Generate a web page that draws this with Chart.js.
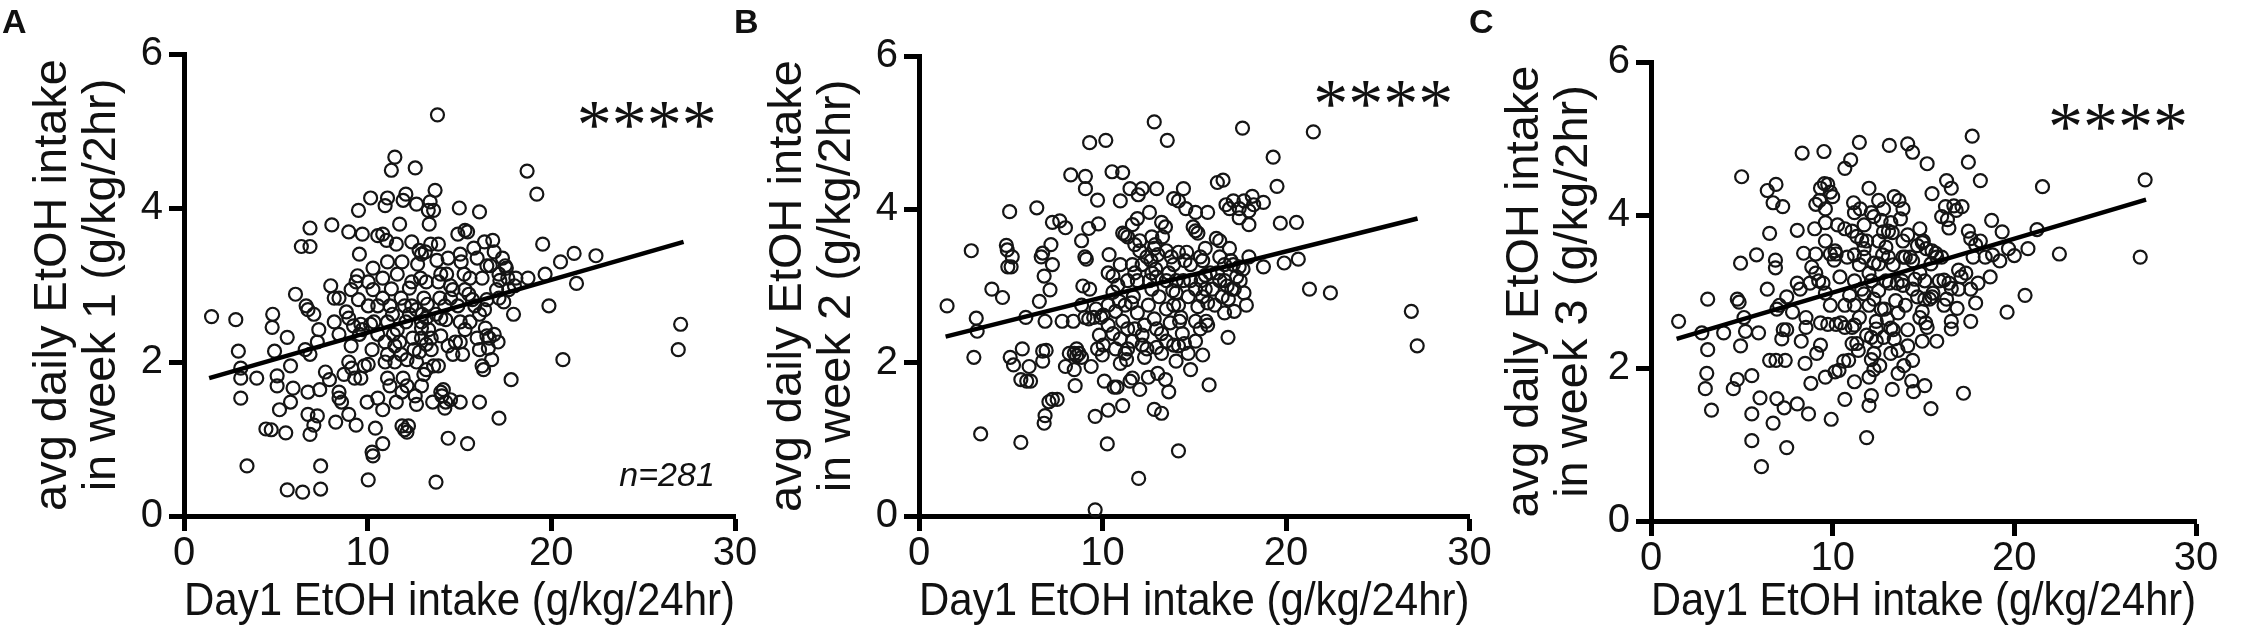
<!DOCTYPE html>
<html>
<head>
<meta charset="utf-8">
<title>Day1 vs weekly EtOH intake</title>
<script src="https://cdn.jsdelivr.net/npm/chart.js@4.4.1/dist/chart.umd.min.js"></script>
<style>
  html, body { margin: 0; padding: 0; background: #fff; }
  #wrap { position: relative; width: 2246px; height: 630px; overflow: hidden; background: #fff; }
  #wrap canvas { position: absolute; top: 0; }
</style>
</head>
<body>
<div id="wrap">
  <canvas id="chartA"></canvas>
  <canvas id="chartB"></canvas>
  <canvas id="chartC"></canvas>
</div>
<script>
// axis ticks
const xTicks = [0, 10, 20, 30];
const yTicks = [0, 2, 4, 6];

// texts
const xTitle = 'Day1 EtOH intake (g/kg/24hr)';
const yTitleTop = 'avg daily EtOH intake';
const stars = '****';
const nLabel = 'n=281';

// panel A: day 1 intake vs week 1
const day1A = [
  1.50,2.82,2.96,3.09,3.09,3.09,3.43,3.96,4.83,4.80,
  4.93,5.07,5.07,5.20,4.46,4.75,5.54,5.62,5.80,5.94,
  5.80,5.62,6.07,6.46,6.39,6.86,6.86,6.65,6.75,7.07,
  7.34,7.26,6.60,6.86,6.75,7.39,6.75,7.26,7.07,6.86,
  7.44,7.44,8.05,7.99,8.18,8.44,7.70,7.92,8.44,8.44,
  8.58,8.26,8.97,9.37,8.97,9.10,8.84,8.97,9.23,9.10,
  8.97,9.13,9.29,9.71,9.50,9.55,9.45,9.37,9.50,9.63,
  9.71,9.55,9.82,10.03,9.63,9.97,10.24,10.29,10.03,10.42,
  10.82,10.16,10.55,10.82,11.03,10.29,10.29,10.16,10.34,10.24,
  10.55,10.82,11.08,10.95,11.08,11.08,10.95,11.29,11.48,11.29,
  11.56,11.21,11.40,11.48,11.56,11.74,11.87,11.93,12.08,11.82,
  12.01,12.08,12.27,11.74,11.82,12.14,11.93,11.87,11.87,12.01,
  12.14,12.22,12.40,12.27,12.45,12.53,12.59,12.66,12.59,12.66,
  12.80,12.93,13.14,12.72,12.88,13.06,12.98,12.93,12.93,12.82,
  13.06,13.19,13.40,13.30,13.35,13.67,13.59,13.43,13.19,13.25,
  13.32,13.46,13.19,13.54,13.59,13.72,13.85,13.77,13.85,13.93,
  13.98,13.98,14.04,14.12,14.25,14.20,14.51,14.38,13.85,13.98,
  14.25,14.20,14.38,14.30,14.51,14.51,14.64,14.91,14.99,15.04,
  15.09,15.30,15.44,15.25,14.91,15.04,15.17,15.04,15.44,15.51,
  15.70,15.57,15.78,16.09,16.23,16.36,16.09,16.23,16.31,16.41,
  16.49,16.62,16.57,16.81,16.89,16.49,16.68,17.15,17.20,17.34,
  17.49,17.63,17.02,17.15,17.41,17.94,16.89,17.10,16.75,17.15,
  17.81,17.55,18.07,17.99,18.73,18.68,19.21,19.53,19.66,19.87,
  20.50,21.24,21.37,20.63,22.43,26.91,27.04,13.80,
  11.08,11.35,11.61,12.40,12.66,12.93,13.19,13.72,13.98,13.46,
  12.66,12.93,12.14,11.48,11.21,10.55,10.82,10.03,10.55,10.95,
  14.78,15.30,15.57,15.83,15.96,15.04,14.64,14.38,16.09,16.49,
  15.30,15.96,16.36,12.40,11.61,10.82,10.03,11.08,8.44,8.18,
  8.71,16.09,17.68
];
const week1 = [
  2.59,2.55,2.14,1.92,1.79,1.53,0.65,1.79,2.62,2.45,
  2.14,1.82,1.69,1.38,1.13,1.12,1.08,2.32,1.95,1.66,
  1.48,0.34,2.88,0.31,3.50,3.50,3.74,2.73,2.68,2.62,
  2.42,2.26,2.16,2.10,1.61,1.64,1.32,1.30,1.18,1.06,
  0.65,0.35,3.78,2.99,2.83,2.83,1.87,1.77,1.61,1.53,
  1.48,1.22,1.32,1.18,3.69,2.94,2.65,2.57,2.47,2.21,
  2.00,1.92,1.79,3.66,3.97,3.40,3.12,3.04,2.81,2.49,
  2.42,2.36,1.95,1.97,1.79,1.48,0.83,0.78,0.47,1.14,
  0.94,4.13,3.64,3.66,3.58,3.22,2.94,2.49,2.52,2.16,
  1.53,1.38,2.10,2.00,1.79,4.13,4.03,4.49,4.66,2.95,
  3.53,2.73,2.36,2.21,1.48,3.79,3.30,4.10,4.18,2.83,
  2.73,2.52,2.62,2.26,2.10,2.03,1.79,1.61,1.17,1.12,
  1.09,1.17,3.04,2.96,2.31,2.16,1.56,1.45,4.52,4.05,
  3.45,3.40,3.43,3.27,3.09,2.83,2.62,2.44,2.31,2.13,
  1.84,1.90,4.08,3.97,3.79,4.23,3.97,3.53,3.04,2.75,
  2.42,2.31,2.23,1.48,1.95,0.44,3.53,3.32,3.04,2.83,
  3.14,1.61,1.56,1.64,1.48,1.40,1.51,1.01,1.95,2.34,
  2.55,2.73,3.35,3.14,2.99,2.83,2.94,3.66,4.00,3.40,
  3.30,3.71,3.69,3.14,2.73,2.52,2.10,1.48,0.94,2.88,
  2.81,3.09,3.48,3.95,3.09,2.68,2.16,1.95,1.90,2.44,
  2.34,2.31,2.18,3.58,3.43,3.25,3.25,3.14,3.06,3.35,
  3.25,3.09,2.94,2.83,2.78,2.62,2.36,2.26,2.03,1.27,
  1.77,3.22,3.09,2.99,3.09,4.48,4.18,3.53,3.14,2.73,
  3.30,3.41,3.02,2.03,3.38,2.16,2.49,5.21,
  2.52,2.62,2.42,2.73,2.68,2.52,2.57,2.62,2.57,2.16,
  2.00,1.69,1.69,2.00,1.69,2.73,2.83,2.73,2.36,2.26,
  2.26,2.42,2.52,2.73,2.31,2.26,2.10,2.21,2.62,2.81,
  2.94,3.35,3.56,3.56,3.14,3.09,3.04,3.30,2.36,2.52,
  1.84,1.48,2.94
];

// panel B: day 1 intake vs week 2
const day1B = [
  1.53,2.85,3.12,3.17,2.99,3.36,3.97,4.55,4.94,4.76,
  4.81,5.08,5.02,4.84,4.97,5.15,5.63,5.55,5.55,5.87,
  6.08,6.00,5.82,6.42,6.56,6.74,6.66,6.82,7.14,6.87,
  7.19,7.27,6.74,6.93,6.74,7.08,7.27,7.53,6.87,6.82,
  7.27,7.67,7.98,8.27,9.07,9.07,7.80,8.41,7.98,8.19,
  8.46,8.59,8.72,8.86,8.46,8.51,8.59,8.86,9.04,9.12,
  9.25,9.38,8.93,9.30,8.86,9.04,9.25,9.52,9.78,9.73,
  9.30,10.18,10.52,11.10,9.65,9.91,10.04,10.31,9.83,9.99,
  10.04,9.73,10.10,10.63,10.26,9.60,10.31,11.10,10.79,10.36,
  10.31,10.57,10.97,11.10,11.23,11.37,10.97,10.84,10.57,10.71,
  10.92,11.23,11.10,10.97,11.23,11.37,11.31,10.97,11.63,11.50,
  12.03,11.50,12.16,11.95,12.95,12.82,13.53,11.63,11.90,12.03,
  11.76,12.03,12.16,11.76,11.90,11.68,11.58,11.90,12.29,12.16,
  11.76,12.16,12.29,12.50,11.97,12.56,12.69,12.87,12.82,13.01,
  12.64,12.90,12.95,12.56,12.69,13.08,12.50,12.82,12.95,13.22,
  12.95,13.01,13.43,13.61,12.82,13.22,14.14,13.22,13.43,13.27,
  13.48,13.75,13.88,13.61,13.48,13.83,14.01,13.88,13.69,14.14,
  14.20,14.27,14.35,14.46,14.80,13.88,14.14,13.88,14.14,14.41,
  14.54,14.14,14.59,14.49,14.80,14.94,15.07,15.20,15.33,15.46,
  15.60,15.38,15.60,15.46,15.20,15.73,15.65,15.73,15.46,15.81,
  15.07,15.73,16.26,16.57,16.73,16.92,16.20,16.39,16.26,16.39,
  16.65,16.79,16.52,16.86,17.05,17.18,16.92,17.00,17.13,17.45,
  17.66,17.50,17.71,17.18,16.84,17.45,17.98,17.45,17.71,18.16,
  18.24,18.77,17.98,19.30,19.51,19.69,20.57,19.90,20.67,18.77,
  17.84,17.13,17.63,21.49,21.28,22.42,26.83,27.15,9.60,11.37,
  11.63,12.42,13.22,13.48,14.01,14.41,14.80,15.07,14.67,15.07,
  15.33,15.99,16.12,15.86,15.60,16.39,16.65,12.69,12.42,11.63,
  11.37,10.57,10.31,10.71,14.01,15.07,14.67,16.65,17.31,17.98,13.48
];
const week2 = [
  2.74,3.46,2.58,2.41,2.07,1.07,2.96,2.85,3.97,3.53,
  3.47,3.38,3.25,3.25,2.07,1.97,2.18,0.96,1.78,1.76,
  1.76,1.95,2.59,4.02,2.80,3.43,3.38,3.13,2.95,2.54,
  3.54,3.28,2.15,2.16,2.02,1.49,1.52,1.52,1.31,1.21,
  3.83,3.85,3.76,4.45,4.43,4.27,2.54,2.54,1.95,2.12,
  2.12,2.09,2.12,2.07,1.91,1.70,2.18,3.59,3.38,3.35,
  3.75,1.95,3.00,2.96,2.75,2.59,2.57,2.59,3.81,4.12,
  4.87,4.90,4.49,4.48,2.70,2.59,2.62,2.75,2.36,2.10,
  2.23,2.18,1.76,1.68,0.94,1.30,1.38,1.44,1.68,3.41,
  3.17,3.13,4.11,3.69,3.67,3.64,3.28,3.01,2.92,2.67,
  2.80,2.75,2.54,2.31,2.12,2.18,2.04,1.99,1.80,1.76,
  1.65,4.27,4.27,4.19,4.27,5.14,4.90,3.80,3.88,3.59,
  3.54,3.46,3.28,3.17,3.07,2.86,2.78,2.65,2.49,2.36,
  2.44,2.23,2.07,1.81,0.49,3.96,3.64,3.54,3.49,3.41,
  3.33,3.22,3.12,3.07,2.96,2.86,2.75,2.57,2.44,2.38,
  2.20,1.86,1.78,1.62,1.39,1.34,0.85,3.83,3.77,3.64,
  3.46,3.38,3.28,3.17,3.07,2.94,2.91,2.75,2.52,2.75,
  2.54,2.59,2.38,2.25,1.91,2.23,2.22,4.14,4.11,4.27,
  4.01,3.44,3.44,3.33,3.28,3.77,3.72,3.69,3.38,3.33,
  3.14,3.07,2.96,2.86,2.73,2.78,2.54,2.49,2.10,1.71,
  3.96,3.96,4.35,4.38,4.06,4.01,3.62,3.59,3.17,3.07,
  3.07,3.00,2.86,2.83,2.96,2.96,3.49,3.33,3.28,3.25,
  3.22,3.07,2.91,2.67,2.33,3.89,3.80,4.01,4.11,4.17,
  4.06,4.09,3.98,4.68,4.30,3.82,3.83,3.30,3.35,3.25,
  2.75,4.11,5.06,5.01,2.96,2.91,2.67,2.22,0.08,2.44,
  2.28,2.18,2.12,2.28,3.07,3.07,3.07,2.96,2.86,2.54,
  2.44,2.96,2.75,3.17,3.49,3.38,3.28,3.17,3.38,3.28,
  3.07,2.38,2.49,2.18,2.02,2.28,2.12,2.65,3.12,3.38,2.70
];

// panel C: day 1 intake vs week 3
const day1C = [
  1.52,2.80,3.12,3.12,3.07,2.99,3.33,4.00,4.75,4.85,
  4.93,4.99,5.12,5.20,4.93,4.75,4.53,5.55,5.55,5.55,
  5.81,5.92,6.00,6.08,6.40,6.53,6.72,6.88,6.85,6.85,
  6.93,7.07,7.20,7.25,7.28,7.47,6.53,6.88,7.39,6.93,
  7.33,6.72,7.47,7.79,8.05,8.05,8.32,8.05,8.21,8.40,
  8.53,8.53,8.48,8.67,8.80,8.75,8.85,9.07,9.01,9.07,
  9.28,9.33,9.52,9.12,9.33,9.23,9.47,9.55,9.73,9.87,
  9.60,9.87,9.73,10.00,10.13,10.19,10.08,10.27,10.19,10.13,
  9.92,10.35,10.45,10.61,10.67,10.88,10.67,11.07,11.20,10.67,
  10.99,11.47,11.15,11.20,11.07,11.33,11.60,11.20,11.47,11.20,
  10.93,11.07,11.33,11.41,11.52,11.73,12.00,12.13,12.27,11.87,
  11.73,12.27,12.00,12.53,12.13,11.73,12.27,12.67,11.87,12.13,
  12.40,12.27,12.13,12.00,12.13,12.00,11.87,12.27,12.59,12.53,
  12.80,12.67,12.80,13.07,13.20,12.93,12.75,13.07,13.33,12.93,
  13.12,12.53,12.85,13.28,13.39,13.65,13.87,13.73,13.12,14.13,
  14.40,15.20,14.13,13.87,14.00,14.27,14.40,13.55,13.81,13.87,
  13.47,13.01,13.33,13.20,13.39,13.60,13.28,13.92,14.40,14.35,
  14.45,14.53,14.67,14.80,14.93,14.99,15.15,15.47,15.68,15.73,
  15.41,15.52,15.07,15.33,15.47,15.07,14.93,14.80,15.12,15.20,
  15.07,15.41,15.47,16.00,16.27,16.53,16.21,16.00,16.13,16.27,
  16.53,16.40,16.93,17.07,16.85,16.32,16.40,16.67,16.80,17.12,
  17.47,17.68,18.13,17.47,17.60,17.87,18.00,17.87,17.20,18.75,
  19.33,18.80,19.68,20.00,20.59,19.60,20.75,21.25,21.55,22.48,
  26.93,27.20,9.07,9.60,10.40,10.80,11.20,11.60,12.00,12.40,
  12.80,13.60,14.00,14.13,14.40,14.67,14.80,15.87,16.13,16.53,
  16.93,17.33,17.60,17.73,18.13,18.40,19.20,17.60,16.53,15.73,
  14.13,13.20,12.40,11.47,10.67,9.87,9.33,9.60,11.20,13.60,
  14.93,11.73,9.60,13.87,12.53,10.67,9.60,8.27,7.47,6.40,18.67
];
const week3 = [
  2.61,2.46,2.90,2.24,1.93,1.73,1.45,2.46,2.90,2.86,
  3.37,4.50,2.66,2.48,2.29,1.85,1.73,1.90,1.40,1.05,
  3.48,2.46,1.61,0.71,4.32,3.76,4.16,4.40,3.41,3.31,
  2.77,2.82,2.38,4.11,2.50,2.50,2.10,2.10,2.10,1.60,
  1.48,1.28,0.96,2.73,1.53,3.80,4.81,3.11,3.03,3.50,
  2.66,2.53,2.06,1.40,1.80,3.11,3.32,3.49,3.82,4.14,
  4.19,4.35,4.83,2.19,2.59,3.14,3.11,4.41,4.40,4.30,
  3.90,3.49,2.57,4.24,3.53,3.49,3.41,3.87,2.57,1.95,
  1.33,1.97,2.59,2.09,1.59,2.10,2.53,2.53,2.56,4.61,
  4.72,4.95,4.16,4.03,3.79,3.72,3.67,3.48,3.35,3.14,
  2.95,2.32,2.32,2.23,4.08,3.87,4.35,4.03,3.98,3.66,
  3.45,3.37,3.24,3.36,3.14,2.97,2.90,2.77,2.43,2.40,
  2.35,2.19,2.11,1.88,1.64,1.51,1.09,1.98,2.03,4.19,
  4.08,3.93,3.78,3.79,3.90,3.58,3.48,3.45,3.35,3.14,
  3.11,3.01,2.77,3.77,4.24,4.19,4.08,3.95,4.91,4.93,
  4.82,4.67,3.74,3.45,3.45,3.45,3.40,3.11,3.14,3.08,
  2.88,2.64,2.50,2.52,2.38,2.23,1.72,2.03,2.10,1.83,
  1.69,3.16,3.60,3.82,3.64,3.66,3.56,3.53,3.50,3.45,
  3.36,2.98,2.90,2.90,2.93,3.14,2.74,2.66,2.59,2.53,
  1.77,1.47,4.28,3.98,4.45,4.35,4.11,3.45,3.15,2.90,
  3.04,3.11,3.28,3.19,2.78,3.94,3.83,4.12,4.06,4.11,
  4.69,5.03,4.45,3.79,3.69,3.61,3.11,2.85,1.67,3.93,
  3.78,3.48,3.56,3.47,2.95,2.73,3.56,3.81,4.37,3.49,
  3.45,4.46,3.24,3.66,3.19,3.45,2.82,3.03,2.82,2.61,
  2.40,2.72,2.82,2.50,3.03,2.93,3.24,3.14,2.82,2.61,
  3.03,3.24,3.03,3.45,3.66,3.45,3.40,2.61,2.51,2.35,
  2.29,2.19,2.51,2.66,2.82,2.82,2.30,1.88,1.82,1.93,
  2.35,3.56,2.98,3.66,3.66,3.82,4.08,2.35,2.93,3.03,3.19
];

// regression line end points
const fitXA = [1.37, 27.2];
const fitYA = [1.79, 3.56];
const fitXB = [1.45, 27.17];
const fitYB = [2.34, 3.88];
const fitXC = [1.41, 27.25];
const fitYC = [2.38, 4.20];

const fontSans = '"Liberation Sans", Arial, Helvetica, sans-serif';
const ink = '#111';

function pts(xs, ys) {
  return xs.map((x, i) => ({ x: x, y: ys[i] }));
}

// panel letter, stars and n label
const annotate = {
  id: 'annotate',
  afterDraw(chart, args, o) {
    const ctx = chart.ctx;
    const sx = chart.scales.x, sy = chart.scales.y;
    ctx.save();
    ctx.fillStyle = ink;
    ctx.textBaseline = 'alphabetic';
    ctx.font = 'bold 34px ' + fontSans;
    ctx.textAlign = 'left';
    ctx.fillText(o.letter, o.letterX, 33);
    ctx.font = '70px "Liberation Serif", "Times New Roman", serif';
    ctx.textAlign = 'center';
    ctx.fillText(stars, sx.getPixelForValue(o.starAt[0]), sy.getPixelForValue(o.starAt[1]) + 33);
    if (o.note) {
      ctx.font = 'italic 34px ' + fontSans;
      ctx.textAlign = 'right';
      ctx.fillText(o.note, sx.getPixelForValue(o.noteAt[0]), sy.getPixelForValue(o.noteAt[1]));
    }
    ctx.restore();
  }
};

function makePanel(p) {
  const cv = document.getElementById(p.id);
  cv.width = p.width;
  cv.height = 630;
  cv.style.left = p.left + 'px';
  cv.style.width = p.width + 'px';
  cv.style.height = '630px';

  const axisLine = { display: true, color: '#000', width: 5 };
  const tickMarks = { drawOnChartArea: false, drawTicks: true, tickLength: 15, tickWidth: 5, tickColor: '#000' };
  const tickFont = { family: fontSans, size: 40, lineHeight: 1 };
  const titleFont = { family: fontSans, size: 47, lineHeight: 1.04 };

  return new Chart(cv, {
    type: 'scatter',
    data: {
      datasets: [
        {
          data: pts(p.fitX, p.fitY),
          showLine: true,
          borderColor: '#000',
          borderWidth: 4.5,
          pointRadius: 0,
          clip: false
        },
        {
          data: pts(p.xs, p.ys),
          pointRadius: 6.5,
          pointBorderWidth: 2.2,
          pointBorderColor: '#151515',
          pointBackgroundColor: 'rgba(0,0,0,0)',
          clip: false
        }
      ]
    },
    options: {
      responsive: false,
      animation: false,
      devicePixelRatio: 1,
      layout: { padding: { left: 0, top: p.plot[2], right: p.width - p.plot[1], bottom: 0 } },
      plugins: {
        legend: { display: false },
        tooltip: { enabled: false },
        annotate: { letter: p.letter, letterX: p.letterX, starAt: p.starAt, note: p.note, noteAt: p.noteAt }
      },
      scales: {
        x: {
          type: 'linear', min: 0, max: 30,
          afterBuildTicks: s => { s.ticks = xTicks.map(v => ({ value: v })); },
          afterFit: s => { s.height = 630 - p.plot[3]; },
          border: axisLine,
          grid: tickMarks,
          ticks: { color: ink, padding: 3, font: tickFont, maxRotation: 0 },
          title: { display: true, text: xTitle, color: ink, font: titleFont, padding: { top: 0, bottom: 4 } }
        },
        y: {
          type: 'linear', min: 0, max: 6,
          afterBuildTicks: s => { s.ticks = yTicks.map(v => ({ value: v })); },
          afterFit: s => { s.width = p.plot[0]; },
          border: axisLine,
          grid: tickMarks,
          ticks: { color: ink, padding: 6, font: tickFont },
          title: {
            display: true,
            text: [yTitleTop, 'in week ' + p.week + ' (g/kg/2hr)'],
            color: ink, font: titleFont,
            padding: { top: p.titlePad, bottom: 0 }
          }
        }
      }
    },
    plugins: [annotate]
  });
}

makePanel({ id: 'chartA', left: 0, width: 770, plot: [184, 735, 54, 516], titlePad: 29,
  letter: 'A', letterX: 2, week: 1, xs: day1A, ys: week1, fitX: fitXA, fitY: fitYA,
  starAt: [25.2, 5.21], note: nLabel, noteAt: [28.9, 0.39] });
makePanel({ id: 'chartB', left: 730, width: 770, plot: [189, 739.5, 56, 516], titlePad: 34,
  letter: 'B', letterX: 4, week: 2, xs: day1B, ys: week2, fitX: fitXB, fitY: fitYB,
  starAt: [25.3, 5.50] });
makePanel({ id: 'chartC', left: 1462, width: 784, plot: [189, 734, 62, 521], titlePad: 39,
  letter: 'C', letterX: 7, week: 3, xs: day1C, ys: week3, fitX: fitXC, fitY: fitYC,
  starAt: [25.7, 5.28] });
</script>
</body>
</html>
